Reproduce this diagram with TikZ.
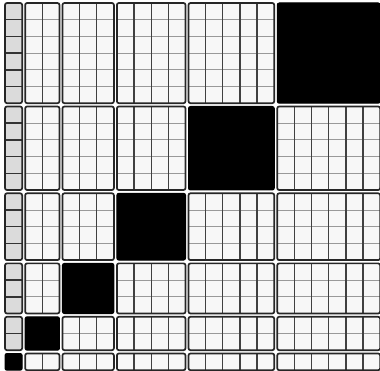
\documentclass[tikz,border=0pt]{standalone}
\begin{document}
\begin{tikzpicture}[x=1pt,y=-1pt,
  blockout/.style={draw=black!85,line width=1.7pt,rounded corners=2pt},
  vline/.style={draw=black!75,line width=1.3pt},
  hline/.style={draw=black!40,line width=0.8pt},
  hlinefirst/.style={draw=black!80,line width=1.5pt},
  blackblock/.style={fill=black,draw=black,line width=1pt,rounded corners=2pt}]
\useasboundingbox (0,0) rectangle (380,371);
\fill[white] (0,0) rectangle (380,371);
\def\u{17.15}\def\gx{3}\def\v{16.7}\def\gy{3.3}
\foreach \i in {1,...,6}{
 \foreach \r in {1,...,6}{
   \pgfmathtruncatemacro\h{7-\r}
   \pgfmathsetmacro\xa{5+(\i*(\i-1)/2)*\u+(\i-1)*\gx}
   \pgfmathsetmacro\xb{\xa+\i*\u}
   \pgfmathsetmacro\ya{3+(7*(\r-1)-(\r-1)*\r/2)*\v+(\r-1)*\gy}
   \pgfmathsetmacro\yb{\ya+\h*\v}
   \ifnum\i=\h
     \path[blackblock] (\xa,\ya) rectangle (\xb,\yb);
   \else
     \ifnum\i=1
       \fill[black!14] (\xa,\ya) rectangle (\xb,\yb);
     \else
       \fill[black!3] (\xa,\ya) rectangle (\xb,\yb);
     \fi
     \ifnum\h>1
       \pgfmathtruncatemacro\hm{\h-1}
       \foreach \k in {1,...,\hm}{
         \ifnum\i=1
           \draw[hlinefirst] (\xa,\ya+\k*\v) -- (\xb,\ya+\k*\v);
         \else
           \draw[hline] (\xa,\ya+\k*\v) -- (\xb,\ya+\k*\v);
         \fi
       }
     \fi
     \ifnum\i>1
       \pgfmathtruncatemacro\im{\i-1}
       \foreach \k in {1,...,\im}{
         \draw[vline] (\xa+\k*\u,\ya) -- (\xa+\k*\u,\yb);
       }
     \fi
     \path[blockout] (\xa,\ya) rectangle (\xb,\yb);
   \fi
 }
}
\end{tikzpicture}
\end{document}
